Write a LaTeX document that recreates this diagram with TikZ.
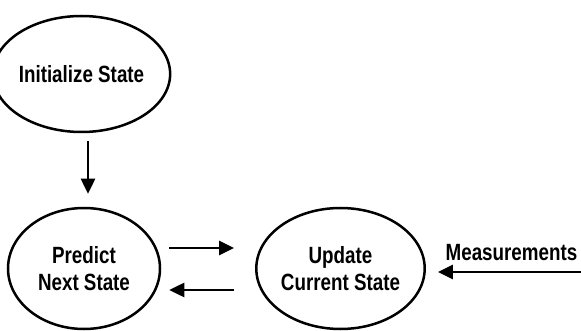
\documentclass[tikz,border=0pt]{standalone}
\usepackage{fontspec}
\usetikzlibrary{shapes.geometric,arrows.meta}
\newfontfamily\labelfont[FakeStretch=0.8,UprightFont={* Bold}]{Liberation Sans}
\begin{document}
\begin{tikzpicture}[x=1pt,y=-1pt,
  statebox/.style={draw, ellipse, line width=2.5pt, inner sep=0pt, align=center,
    font=\labelfont\fontsize{23.5}{27}\selectfont},
  arr/.style={line width=2.5pt, -{Triangle[length=15pt,width=14pt]}},
  plain/.style={font=\labelfont\fontsize{23.5}{27}\selectfont}]
\fill[white] (0,0) rectangle (581,331);
\useasboundingbox (0,0) rectangle (581,331);

% states of the filter loop
\node[statebox, minimum width=143pt, minimum height=116pt] (init) at (81.5,74) {Initialize State};
\node[statebox, minimum width=152pt, minimum height=121pt] (predict) at (84,268.5) {Predict\\Next State};
\node[statebox, minimum width=149pt, minimum height=121pt] (update) at (340.5,268.5) {Update\\Current State};

% external input
\node[plain, anchor=base] (meas) at (511.5,260) {Measurements};
\coordinate (measin) at (581,272);

% connectors
\draw[arr, shorten <=8pt, shorten >=13pt] ([xshift=6.5pt]init.south) -- ([xshift=4pt]predict.north);
\draw[arr] ([shift={(8,-20.5)}]predict.east) -- ([shift={(-21,-20.5)}]update.west);
\draw[arr] ([shift={(-21,21.5)}]update.west) -- ([shift={(8,21.5)}]predict.east);
\draw[arr, shorten >=12pt] (measin) -- (update.east |- measin);
\end{tikzpicture}
\end{document}
